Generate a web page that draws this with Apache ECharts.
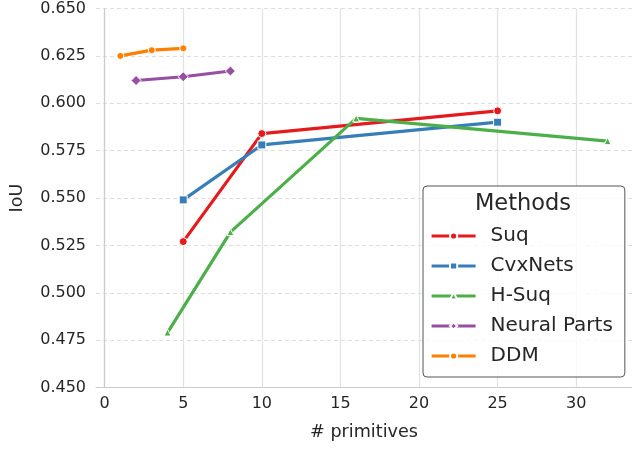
<!DOCTYPE html>
<html>
<head>
<meta charset="utf-8">
<script src="https://cdn.jsdelivr.net/npm/echarts@6/dist/echarts.min.js"></script>
<style>html,body{margin:0;padding:0;background:#fff}#c{width:632px;height:449px}</style>
</head>
<body>
<div id="c"></div>
<script>
const methods = ['Suq', 'CvxNets', 'H-Suq', 'Neural Parts', 'DDM'];
const suq = [[5, 0.527], [10, 0.584], [25, 0.596]];
const cvxnets = [[5, 0.549], [10, 0.578], [25, 0.590]];
const hsuq = [[4, 0.479], [8, 0.532], [16, 0.592], [32, 0.580]];
const neuralParts = [[2, 0.612], [5, 0.614], [8, 0.617]];
const ddm = [[1, 0.625], [3, 0.628], [5, 0.629]];
const xTicks = [0, 5, 10, 15, 20, 25, 30];
const yTicks = [0.45, 0.475, 0.5, 0.525, 0.55, 0.575, 0.6, 0.625, 0.65];

const colors = ['#e41a1c', '#377eb8', '#4daf4a', '#984ea3', '#ff7f00'];
const symbols = ['circle', 'rect', 'triangle', 'diamond', 'circle'];
const symSizes = [8, 8, 7, 10, 7];
const datasets = [suq, cvxnets, hsuq, neuralParts, ddm];
const font = 'DejaVu Sans';

const chart = echarts.init(document.getElementById('c'), null, {renderer: 'canvas'});
chart.setOption({
  animation: false,
  backgroundColor: '#fff',
  textStyle: {fontFamily: font},
  grid: {left: 95, right: 0, top: 8.5, bottom: 61.5, containLabel: false},
  xAxis: {
    type: 'value', min: -0.55, max: 33.55,
    name: '# primitives', nameLocation: 'middle', nameGap: 36,
    nameTextStyle: {fontSize: 17.6, color: '#262626', fontFamily: font},
    axisLine: {show: true, lineStyle: {color: '#cccccc', width: 1.2}},
    axisTick: {show: false, customValues: xTicks},
    axisLabel: {customValues: xTicks, fontSize: 16, color: '#262626', margin: 8, fontFamily: font},
    splitLine: {show: true, lineStyle: {color: '#e2e2e2', width: 1.2}}
  },
  yAxis: {
    type: 'value', min: 0.45, max: 0.65, interval: 0.025,
    name: 'IoU', nameLocation: 'middle', nameGap: 70,
    nameTextStyle: {fontSize: 17.6, color: '#262626', fontFamily: font},
    axisLine: {show: true, lineStyle: {color: '#cccccc', width: 1.2}},
    axisTick: {show: false},
    axisLabel: {fontSize: 16, color: '#262626', margin: 10, fontFamily: font,
      formatter: v => v.toFixed(3)},
    splitLine: {show: true, lineStyle: {color: '#dddddd', width: 1, type: [4, 3]}}
  },
  legend: {
    orient: 'vertical', left: 423, top: 186,
    padding: [40, 12, 11, 7],
    itemWidth: 44, itemHeight: 9, itemGap: 10,
    backgroundColor: 'rgba(255,255,255,0.8)',
    borderColor: '#555', borderWidth: 1, borderRadius: 4,
    lineStyle: {width: 3.2},
    textStyle: {fontSize: 20, lineHeight: 20, color: '#262626', fontFamily: font, padding: [0, 0, 0, 10]},
    data: methods
  },
  graphic: [{
    type: 'text', x: 523, y: 204, z: 100,
    style: {text: 'Methods', fontSize: 22.5, fill: '#262626', fontFamily: font,
      textAlign: 'center', textVerticalAlign: 'middle'}
  }],
  series: methods.map((m, i) => ({
    name: m, type: 'line', data: datasets[i],
    symbol: symbols[i], symbolSize: symSizes[i], showSymbol: true,
    lineStyle: {color: colors[i], width: 3.2},
    itemStyle: {color: colors[i], borderColor: '#fff', borderWidth: 1},
    z: 2 + i
  }))
});
</script>
</body>
</html>
